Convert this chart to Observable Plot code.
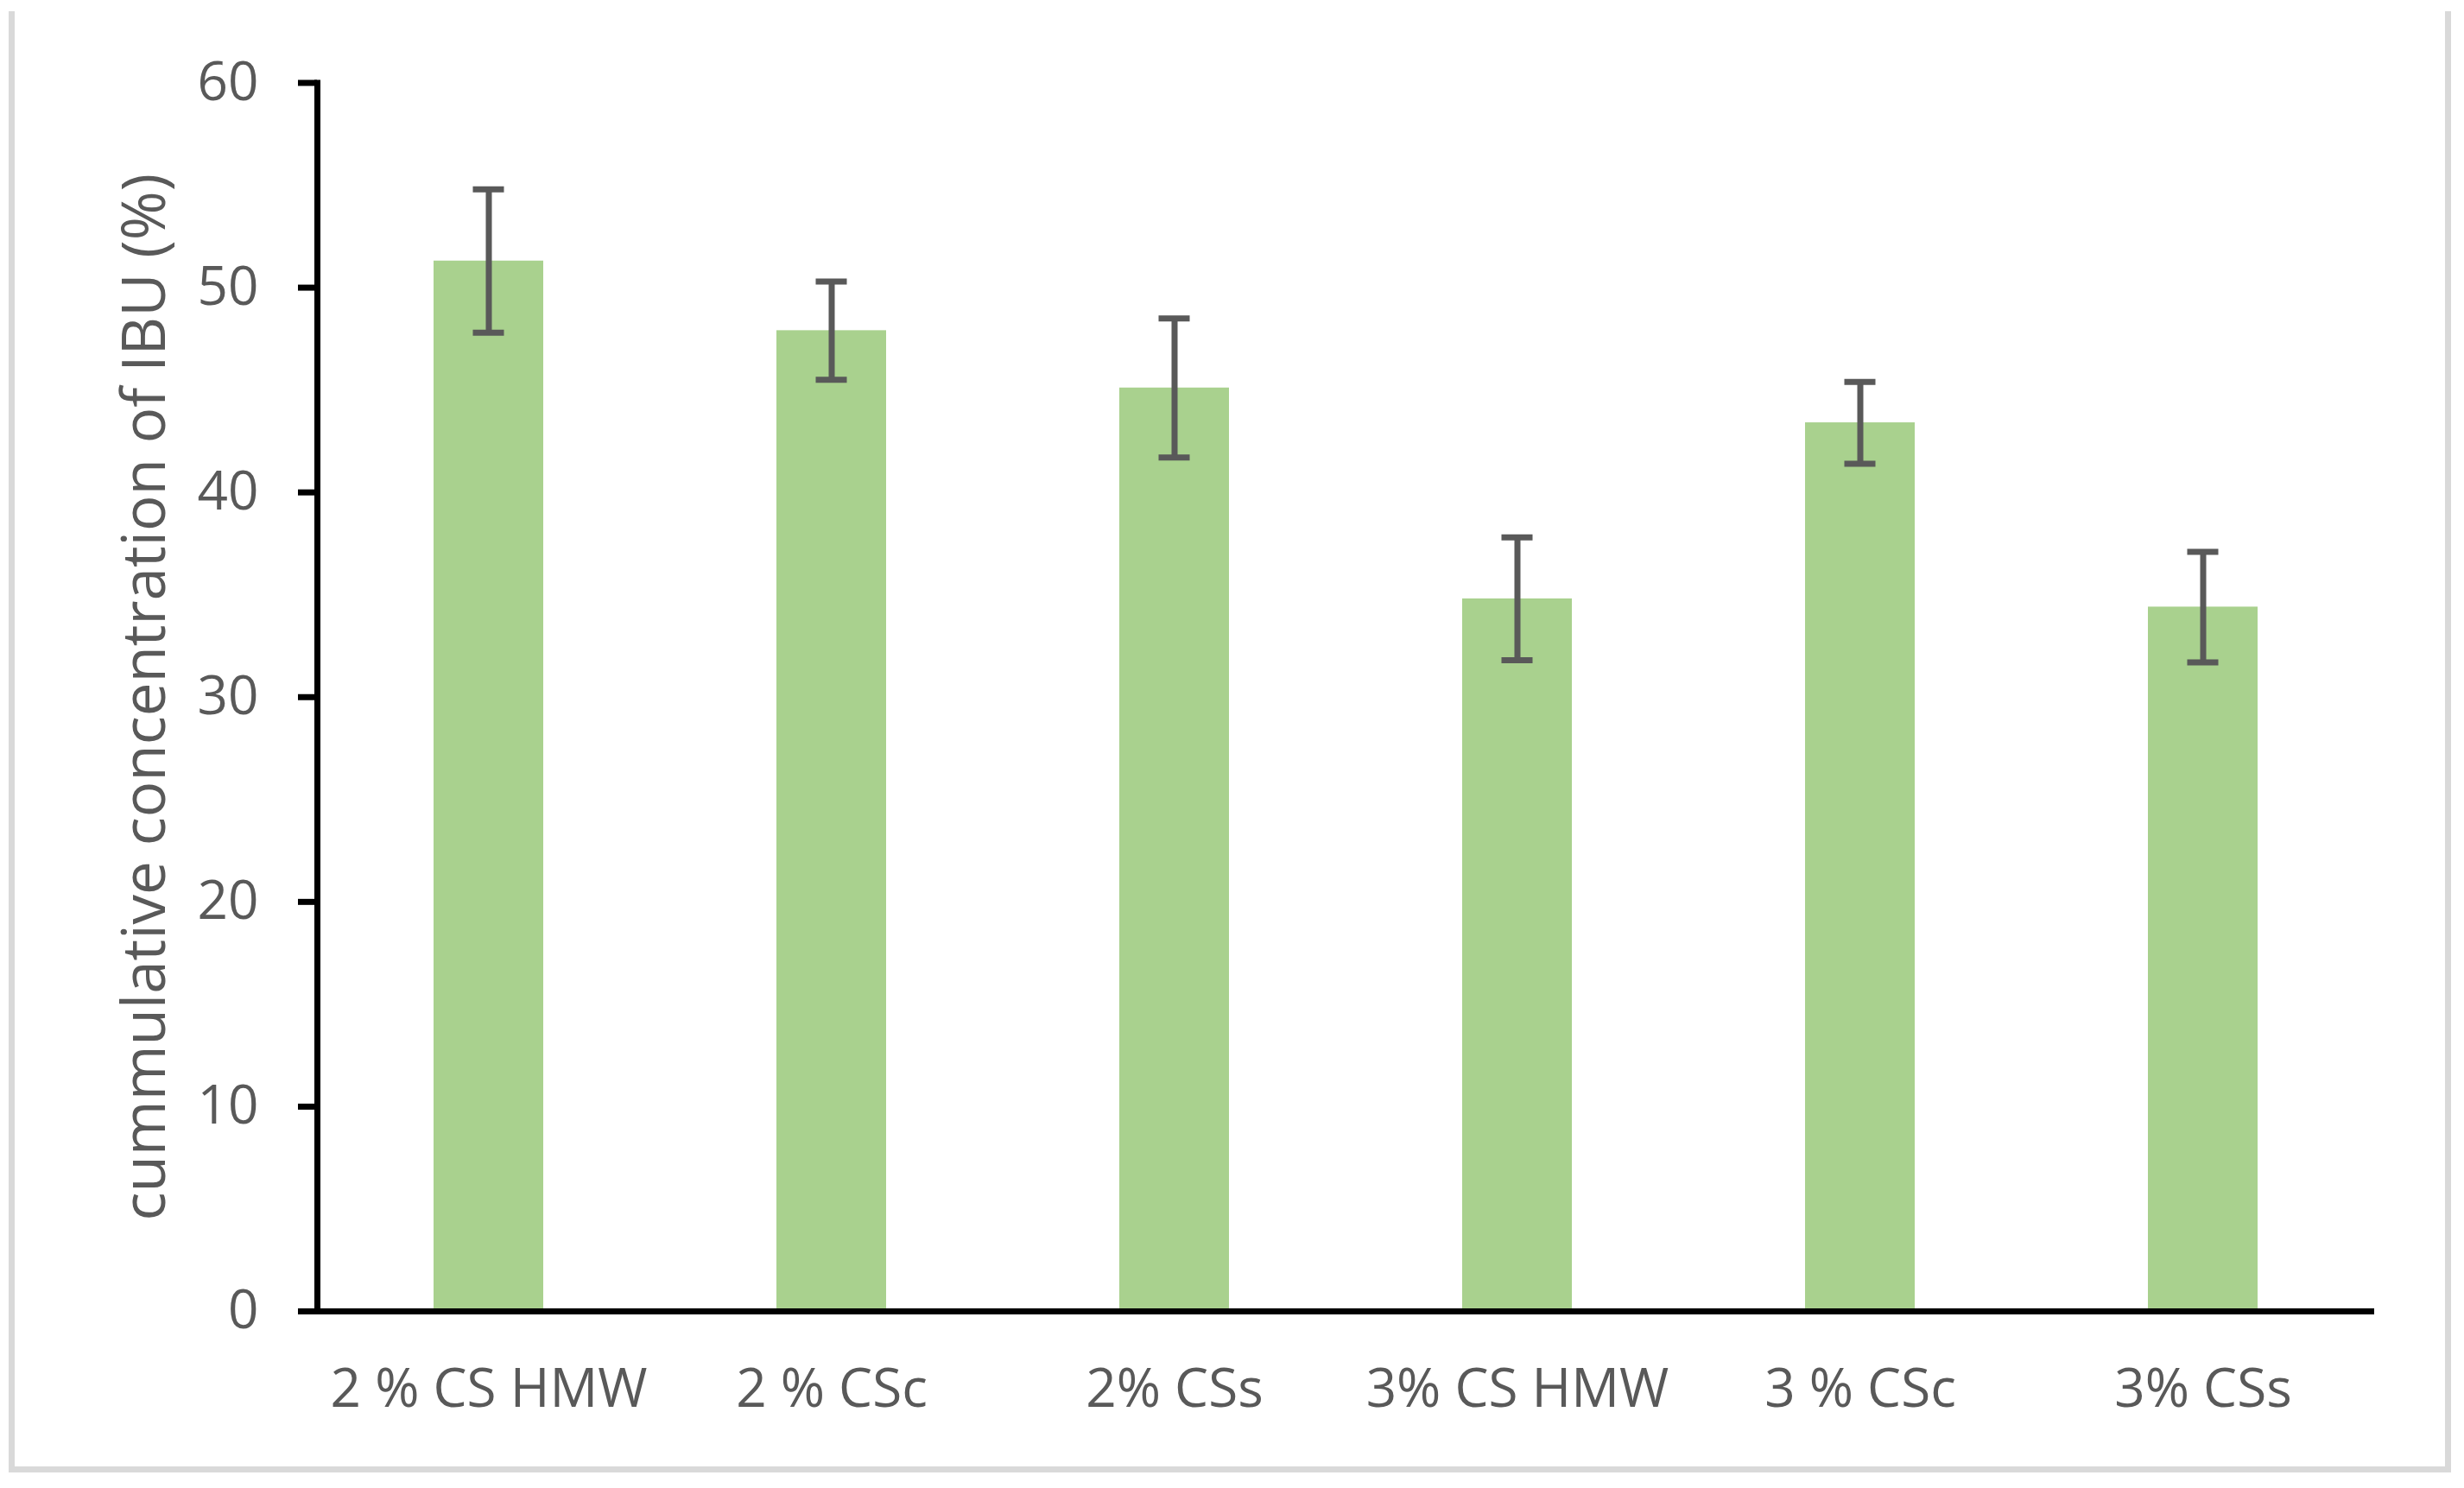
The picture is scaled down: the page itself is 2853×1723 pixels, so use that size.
<!DOCTYPE html>
<html>
<head>
<meta charset="utf-8">
<script src="https://cdn.jsdelivr.net/npm/d3@7"></script>
<script src="https://cdn.jsdelivr.net/npm/@observablehq/plot@0.6"></script>
<style>
  html, body { margin: 0; padding: 0; background: #ffffff; }
  #wrap { position: relative; width: 2853px; height: 1723px; overflow: hidden; }
  #border {
    position: absolute; left: 10px; top: 13px; width: 2828px; height: 1692px;
    box-sizing: border-box; border-left: 7px solid #d9d9d9; border-right: 7px solid #d9d9d9;
    border-bottom: 7px solid #d9d9d9; pointer-events: none;
  }
  #chart { position: absolute; left: 0; top: 0; }
</style>
</head>
<body>
<div id="wrap">
  <div id="chart"></div>
  <div id="border"></div>
</div>
<script>
const categories = ["2 % CS HMW", "2 % CSc", "2% CSs", "3% CS HMW", "3 % CSc", "3% CSs"];
const means = [51.3, 47.9, 45.1, 34.8, 43.4, 34.4];
const errors = [3.5, 2.4, 3.4, 3.0, 2.0, 2.7];
const yTicks = [0, 10, 20, 30, 40, 50, 60];
const yTitle = "cummulative concentration of IBU (%)";

const data = categories.map((c, i) => ({cat: c, mean: means[i], err: errors[i]}));
const textColor = "#595959";

const chart = Plot.plot({
  width: 2853,
  height: 1723,
  marginLeft: 367,
  marginRight: 104,
  marginTop: 95.5,
  marginBottom: 205,
  style: {fontFamily: "'Open Sans', sans-serif", fontSize: "62px", background: "transparent"},
  x: {domain: categories, paddingInner: 0.68, paddingOuter: 0.34, axis: null},
  y: {domain: [0, 60], axis: null},
  marks: [
    Plot.barY(data, {x: "cat", y: "mean", fill: "#A9D18E"}),
    Plot.ruleX(data, {x: "cat", y1: d => d.mean - d.err, y2: d => d.mean + d.err, stroke: "#595959", strokeWidth: 7}),
    Plot.tickY(data, {x: "cat", y: d => d.mean + d.err, stroke: "#595959", strokeWidth: 7, insetLeft: 45.5, insetRight: 45.5}),
    Plot.tickY(data, {x: "cat", y: d => d.mean - d.err, stroke: "#595959", strokeWidth: 7, insetLeft: 45.5, insetRight: 45.5}),
    Plot.ruleY([0], {stroke: "black", strokeWidth: 7}),
    Plot.frame({anchor: "left", stroke: "black", strokeWidth: 7}),
    Plot.axisY({ticks: yTicks, tickSize: 22, tickPadding: 46, stroke: "black", strokeWidth: 7, fill: textColor, fontSize: 62, label: null}),
    Plot.axisX({tickSize: 0, tickPadding: 66, fill: textColor, fontSize: 62, label: null}),
    Plot.text([yTitle], {frameAnchor: "left", textAnchor: "middle", rotate: -90, dx: -199, fill: textColor, fontSize: 69})
  ]
});
document.getElementById("chart").appendChild(chart);
</script>
</body>
</html>
